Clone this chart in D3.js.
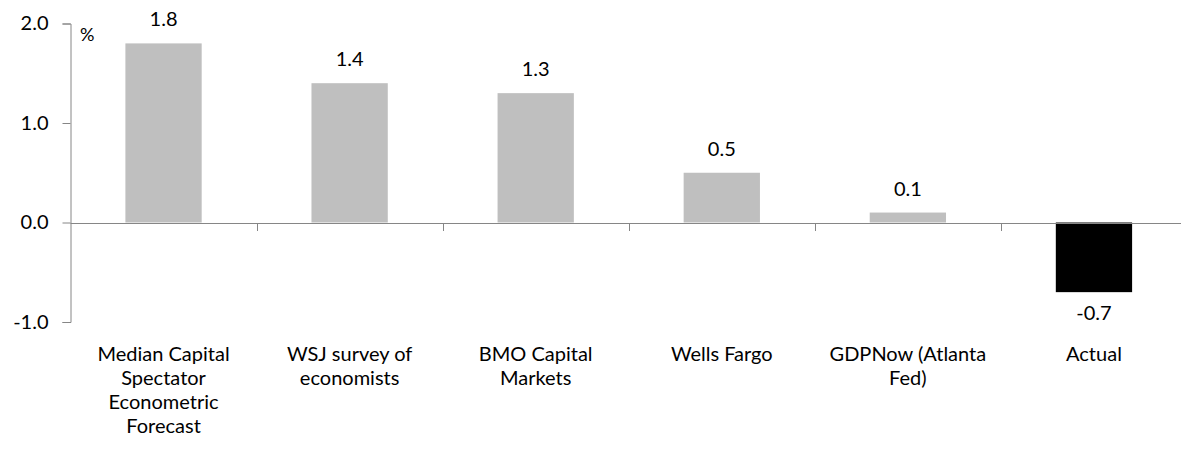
<!DOCTYPE html>
<html><head><meta charset="utf-8">
<script src="https://cdn.jsdelivr.net/npm/d3@7"></script>
<style>body{margin:0;background:#fff}svg{display:block}text{font-family:Lato,sans-serif;fill:#000}</style>
</head><body><svg id="c" width="1181" height="455"></svg>
<script>
const categories = ["Median Capital\nSpectator\nEconometric\nForecast","WSJ survey of\neconomists","BMO Capital\nMarkets","Wells Fargo","GDPNow (Atlanta\nFed)","Actual"];
const values = [1.8,1.4,1.3,0.5,0.1,-0.7];
const barColors = ["#bfbfbf","#bfbfbf","#bfbfbf","#bfbfbf","#bfbfbf","#000000"];
const yTicks = [-1,0,1,2];

const fmt = d => d3.format(".1f")(d).replace("\u2212","-");
const svg = d3.select("#c");
const x = d3.scaleBand().domain(d3.range(categories.length)).range([70.5,1187]).paddingInner(0.59).paddingOuter(0.295);
const y = d3.scaleLinear().domain([-1,2]).range([322,23.5]);
const fs = 20;
const axisColor = "#868686";

// bars
svg.selectAll("rect.bar").data(values).join("rect")
  .attr("x",(d,i)=>x(i)).attr("width",x.bandwidth())
  .attr("y",d=>y(Math.max(0,d))).attr("height",d=>Math.abs(y(d)-y(0)))
  .attr("fill",(d,i)=>barColors[i]);

// y axis
const ya = svg.append("g").attr("transform","translate(70.5,0)")
  .call(d3.axisLeft(y).tickValues(yTicks).tickFormat(fmt).tickSizeInner(8).tickSizeOuter(8).tickPadding(14));
ya.selectAll("path,line").attr("stroke",axisColor);
ya.selectAll("text").style("font-size",fs+"px").attr("font-family","Lato").attr("fill","#000");

// x axis at zero
const step = x.step();
const bandEdges = d3.range(1,categories.length).map(i=>x(i)-x.paddingInner()*step/2);
const xa = svg.append("g");
xa.append("line").attr("x1",70.5).attr("x2",1181).attr("y1",Math.round(y(0))+0.5).attr("y2",Math.round(y(0))+0.5).attr("stroke",axisColor);
xa.selectAll("line.t").data(bandEdges).join("line")
  .attr("x1",d=>Math.round(d)+0.5).attr("x2",d=>Math.round(d)+0.5)
  .attr("y1",Math.round(y(0))+0.5).attr("y2",Math.round(y(0))+8).attr("stroke",axisColor);

// value labels
svg.selectAll("text.v").data(values).join("text")
  .attr("x",(d,i)=>x(i)+x.bandwidth()/2)
  .attr("y",d=>d>=0? y(d)-17 : y(d)+28)
  .attr("text-anchor","middle").style("font-size",fs+"px")
  .text(fmt);

// category labels (one text per line)
categories.forEach((c,i)=>{
  c.split("\n").forEach((ln,j)=>svg.append("text").attr("text-anchor","middle").style("font-size",fs+"px")
    .attr("x",x(i)+x.bandwidth()/2).attr("y",361+24*j).text(ln));
});

// unit
svg.append("text").attr("x",80).attr("y",41).style("font-size","18px").text("%");
</script></body></html>
